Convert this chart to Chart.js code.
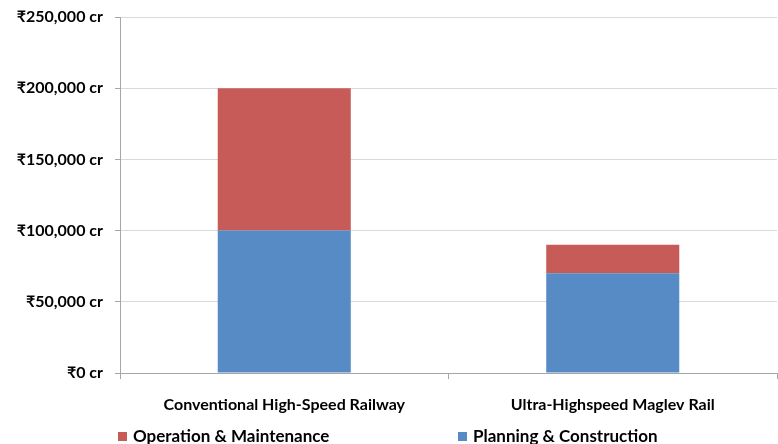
<!DOCTYPE html>
<html>
<head>
<meta charset="utf-8">
<script src="https://cdn.jsdelivr.net/npm/chart.js@4/dist/chart.umd.min.js"></script>
<style>
  html, body { margin: 0; padding: 0; background: #ffffff; }
  #wrap { width: 778px; height: 444px; }
</style>
</head>
<body>
<div id="wrap"><canvas id="cost" width="778" height="444"></canvas></div>
<script>
// Project cost comparison, in crore rupees
const categories = ['Conventional High-Speed Railway', 'Ultra-Highspeed Maglev Rail'];
const planningConstruction = [100000, 70000];
const operationMaintenance = [100000, 20000];
const seriesNames = ['Planning & Construction', 'Operation & Maintenance'];
const seriesColors = ['#578BC5', '#C75B58'];
const yTicks = [0, 50000, 100000, 150000, 200000, 250000];

const FONT = 'Lato, "DejaVu Sans", sans-serif';

// Legend drawn along the bottom edge, red item first
const bottomLegend = {
  id: 'bottomLegend',
  afterDraw(chart) {
    const ctx = chart.ctx;
    const items = [
      { ds: chart.data.datasets[1], x: 118 },
      { ds: chart.data.datasets[0], x: 458 }
    ];
    ctx.save();
    ctx.font = 'bold 17px ' + FONT;
    ctx.textBaseline = 'middle';
    ctx.textAlign = 'left';
    const y = 437;
    items.forEach(it => {
      ctx.fillStyle = it.ds.backgroundColor;
      ctx.fillRect(it.x, y - 5, 9, 9);
      ctx.fillStyle = '#000000';
      ctx.fillText(it.ds.label, it.x + 15, y);
    });
    ctx.restore();
  }
};

new Chart(document.getElementById('cost'), {
  type: 'bar',
  data: {
    labels: categories,
    datasets: [
      { label: seriesNames[0], data: planningConstruction, backgroundColor: seriesColors[0],
        categoryPercentage: 1.0, barPercentage: 0.405 },
      { label: seriesNames[1], data: operationMaintenance, backgroundColor: seriesColors[1],
        categoryPercentage: 1.0, barPercentage: 0.405 }
    ]
  },
  options: {
    responsive: false,
    animation: false,
    layout: { padding: { top: 17, right: 1, bottom: 30, left: 0 } },
    plugins: {
      legend: { display: false },
      tooltip: { enabled: false }
    },
    scales: {
      x: {
        stacked: true,
        offset: true,
        grid: {
          display: true,
          offset: true,
          drawOnChartArea: false,
          tickLength: 6,
          color: '#A6A6A6'
        },
        border: { display: true, color: '#A6A6A6', width: 1 },
        ticks: {
          color: '#000000',
          font: { family: FONT, size: 16, weight: 'bold' },
          padding: 16,
          maxRotation: 0
        },
        afterFit(scale) { scale.height = 41; }
      },
      y: {
        stacked: true,
        min: 0,
        max: 250000,
        afterBuildTicks(scale) { scale.ticks = yTicks.map(v => ({ value: v })); },
        grid: {
          color: '#D9D9D9',
          tickColor: '#A6A6A6',
          tickLength: 5,
          lineWidth: 1
        },
        border: { display: true, color: '#A6A6A6', width: 1 },
        ticks: {
          color: '#000000',
          font: { family: FONT, size: 16, weight: 'bold' },
          padding: 12,
          callback: v => '\u20B9' + v.toLocaleString('en-US') + ' cr'
        },
        afterFit(scale) {
          scale.width = 120;
          scale.paddingTop = 0;
          scale.paddingBottom = 0;
        }
      }
    }
  },
  plugins: [bottomLegend]
});
</script>
</body>
</html>
